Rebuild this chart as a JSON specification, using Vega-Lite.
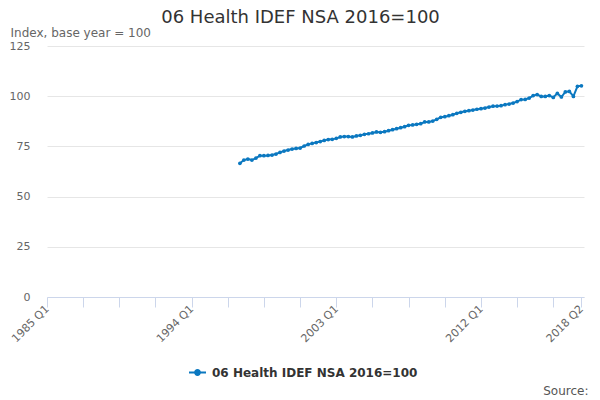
{
  "$schema": "https://vega.github.io/schema/vega-lite/v6.json",
  "width": 537,
  "height": 251,
  "autosize": "none",
  "padding": {"left": 47, "top": 46, "right": 16, "bottom": 103},
  "background": "white",
  "config": {
    "font": "DejaVu Sans",
    "view": {"stroke": null}
  },
  "title": {
    "text": "06 Health IDEF NSA 2016=100",
    "font": "DejaVu Sans",
    "fontSize": 18,
    "fontWeight": "normal",
    "color": "#333333",
    "anchor": "middle",
    "frame": "group",
    "dx": -15,
    "offset": -1
  },
  "data": {
    "values": [
      {"date": "1997-01-01", "value": 66.6},
      {"date": "1997-04-01", "value": 68.2},
      {"date": "1997-07-01", "value": 68.7},
      {"date": "1997-10-01", "value": 68.2},
      {"date": "1998-01-01", "value": 69.2},
      {"date": "1998-04-01", "value": 70.4},
      {"date": "1998-07-01", "value": 70.4},
      {"date": "1998-10-01", "value": 70.5},
      {"date": "1999-01-01", "value": 70.7},
      {"date": "1999-04-01", "value": 71.2},
      {"date": "1999-07-01", "value": 72.0},
      {"date": "1999-10-01", "value": 72.7},
      {"date": "2000-01-01", "value": 73.2},
      {"date": "2000-04-01", "value": 73.7},
      {"date": "2000-07-01", "value": 74.0},
      {"date": "2000-10-01", "value": 74.2},
      {"date": "2001-01-01", "value": 75.2},
      {"date": "2001-04-01", "value": 76.0},
      {"date": "2001-07-01", "value": 76.5},
      {"date": "2001-10-01", "value": 76.9},
      {"date": "2002-01-01", "value": 77.4},
      {"date": "2002-04-01", "value": 78.0},
      {"date": "2002-07-01", "value": 78.4},
      {"date": "2002-10-01", "value": 78.5},
      {"date": "2003-01-01", "value": 79.0},
      {"date": "2003-04-01", "value": 79.7},
      {"date": "2003-07-01", "value": 79.9},
      {"date": "2003-10-01", "value": 79.9},
      {"date": "2004-01-01", "value": 79.7},
      {"date": "2004-04-01", "value": 80.2},
      {"date": "2004-07-01", "value": 80.5},
      {"date": "2004-10-01", "value": 81.0},
      {"date": "2005-01-01", "value": 81.3},
      {"date": "2005-04-01", "value": 81.7},
      {"date": "2005-07-01", "value": 82.2},
      {"date": "2005-10-01", "value": 82.0},
      {"date": "2006-01-01", "value": 82.3},
      {"date": "2006-04-01", "value": 82.8},
      {"date": "2006-07-01", "value": 83.3},
      {"date": "2006-10-01", "value": 83.8},
      {"date": "2007-01-01", "value": 84.3},
      {"date": "2007-04-01", "value": 84.8},
      {"date": "2007-07-01", "value": 85.5},
      {"date": "2007-10-01", "value": 85.7},
      {"date": "2008-01-01", "value": 86.0},
      {"date": "2008-04-01", "value": 86.3},
      {"date": "2008-07-01", "value": 87.2},
      {"date": "2008-10-01", "value": 87.2},
      {"date": "2009-01-01", "value": 87.6},
      {"date": "2009-04-01", "value": 88.5},
      {"date": "2009-07-01", "value": 89.5},
      {"date": "2009-10-01", "value": 89.8},
      {"date": "2010-01-01", "value": 90.3},
      {"date": "2010-04-01", "value": 90.8},
      {"date": "2010-07-01", "value": 91.5},
      {"date": "2010-10-01", "value": 92.0},
      {"date": "2011-01-01", "value": 92.5},
      {"date": "2011-04-01", "value": 92.8},
      {"date": "2011-07-01", "value": 93.1},
      {"date": "2011-10-01", "value": 93.5},
      {"date": "2012-01-01", "value": 93.8},
      {"date": "2012-04-01", "value": 94.1},
      {"date": "2012-07-01", "value": 94.6},
      {"date": "2012-10-01", "value": 95.0},
      {"date": "2013-01-01", "value": 95.1},
      {"date": "2013-04-01", "value": 95.3},
      {"date": "2013-07-01", "value": 95.8},
      {"date": "2013-10-01", "value": 96.1},
      {"date": "2014-01-01", "value": 96.6},
      {"date": "2014-04-01", "value": 97.3},
      {"date": "2014-07-01", "value": 98.3},
      {"date": "2014-10-01", "value": 98.4},
      {"date": "2015-01-01", "value": 99.1},
      {"date": "2015-04-01", "value": 100.3},
      {"date": "2015-07-01", "value": 100.8},
      {"date": "2015-10-01", "value": 99.9},
      {"date": "2016-01-01", "value": 99.9},
      {"date": "2016-04-01", "value": 100.3},
      {"date": "2016-07-01", "value": 99.4},
      {"date": "2016-10-01", "value": 101.4},
      {"date": "2017-01-01", "value": 99.6},
      {"date": "2017-04-01", "value": 102.1},
      {"date": "2017-07-01", "value": 102.4},
      {"date": "2017-10-01", "value": 99.9},
      {"date": "2018-01-01", "value": 104.9},
      {"date": "2018-04-01", "value": 105.2}
    ]
  },
  "mark": {
    "type": "line",
    "strokeWidth": 2,
    "point": {"filled": true, "size": 14}
  },
  "encoding": {
    "x": {
      "field": "date",
      "type": "temporal",
      "scale": {
        "type": "utc",
        "domain": [
          {"year": 1985, "month": 1, "date": 1, "utc": true},
          {"year": 2018, "month": 5, "date": 30, "utc": true}
        ]
      },
      "axis": {
        "values": [
          {"year": 1985, "month": 1, "date": 1, "utc": true},
          {"year": 1987, "month": 4, "date": 1, "utc": true},
          {"year": 1989, "month": 7, "date": 1, "utc": true},
          {"year": 1991, "month": 10, "date": 1, "utc": true},
          {"year": 1994, "month": 1, "date": 1, "utc": true},
          {"year": 1996, "month": 4, "date": 1, "utc": true},
          {"year": 1998, "month": 7, "date": 1, "utc": true},
          {"year": 2000, "month": 10, "date": 1, "utc": true},
          {"year": 2003, "month": 1, "date": 1, "utc": true},
          {"year": 2005, "month": 4, "date": 1, "utc": true},
          {"year": 2007, "month": 7, "date": 1, "utc": true},
          {"year": 2009, "month": 10, "date": 1, "utc": true},
          {"year": 2012, "month": 1, "date": 1, "utc": true},
          {"year": 2014, "month": 4, "date": 1, "utc": true},
          {"year": 2016, "month": 7, "date": 1, "utc": true},
          {"year": 2018, "month": 4, "date": 1, "utc": true}
        ],
        "labelExpr": "(utcmonth(datum.value) == 0 && (utcyear(datum.value) - 1985) % 9 == 0) || utcyear(datum.value) == 2018 ? utcFormat(datum.value, '%Y') + ' Q' + (floor(utcmonth(datum.value) / 3) + 1) : ''",
        "labelAngle": -45,
        "labelAlign": "right",
        "labelBaseline": "middle",
        "labelFontSize": 11,
        "labelColor": "#666666",
        "labelPadding": 0,
        "labelOverlap": false,
        "labelFlush": false,
        "grid": false,
        "domainColor": "#ccd6eb",
        "tickColor": "#ccd6eb",
        "tickSize": 10,
        "title": "Source:",
        "titleFontSize": 12,
        "titleFontWeight": "normal",
        "titleColor": "#555555",
        "titleAlign": "right",
        "titleBaseline": "middle",
        "titleAnchor": null,
        "titleX": 541,
        "titleY": 93
      }
    },
    "y": {
      "field": "value",
      "type": "quantitative",
      "scale": {"domain": [0, 125], "nice": false, "zero": true},
      "axis": {
        "values": [0, 25, 50, 75, 100, 125],
        "domain": false,
        "ticks": false,
        "labelPadding": 17,
        "labelFontSize": 11,
        "labelColor": "#666666",
        "gridColor": "#e6e6e6",
        "title": "Index, base year = 100",
        "titleAngle": 0,
        "titleAlign": "left",
        "titleBaseline": "middle",
        "titleFontSize": 12,
        "titleFontWeight": "normal",
        "titleColor": "#666666",
        "titleX": -37,
        "titleY": -14
      }
    },
    "color": {
      "datum": "06 Health IDEF NSA 2016=100",
      "type": "nominal",
      "scale": {"range": ["#0b78c0"]},
      "legend": {
        "title": null,
        "orient": "none",
        "legendX": 141,
        "legendY": 317,
        "symbolType": "M-1,0H1M-0.28,0A0.28,0.28,0,1,1,0.28,0A0.28,0.28,0,1,1,-0.28,0",
        "symbolSize": 289,
        "symbolStrokeWidth": 2,
        "symbolFillColor": "#0b78c0",
        "symbolStrokeColor": "#0b78c0",
        "labelFontSize": 12,
        "labelFontWeight": "bold",
        "labelColor": "#333333",
        "labelLimit": 400,
        "labelOffset": 5
      }
    }
  }
}
